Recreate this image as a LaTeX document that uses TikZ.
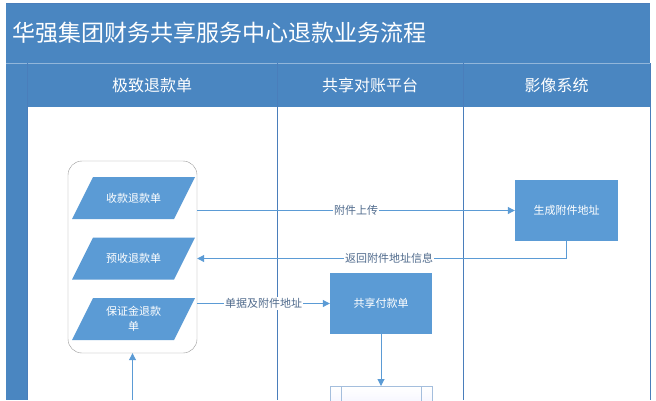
\documentclass[tikz,border=0pt]{standalone}
\usepackage{fontspec}
\setmainfont{Noto Sans CJK SC}
\usetikzlibrary{arrows.meta,positioning}
\definecolor{bandblue}{HTML}{4A86C1}
\definecolor{boxblue}{HTML}{5B9BD5}
\definecolor{laneline}{HTML}{4A7EBB}
\definecolor{labelgray}{HTML}{4F6A8C}

\begin{document}
\begin{tikzpicture}[x=1pt, y=-1pt, >={Triangle[length=7pt,width=7pt]},
    flow/.style={draw=boxblue, line width=1pt},
    procbox/.style={rectangle, fill=boxblue, text=white, font=\fontsize{11}{13}\selectfont,
        minimum width=103pt, minimum height=61pt, inner sep=0pt},
    doctext/.style={text=white, font=\fontsize{11}{15}\selectfont, align=center,
        minimum width=102pt, minimum height=42pt, inner sep=0pt},
    flowlabel/.style={fill=white, text=labelgray, font=\fontsize{11}{13}\selectfont, inner sep=1pt},
    lanehead/.style={text=white, font=\fontsize{16}{18}\selectfont}]
    \useasboundingbox (0,0) rectangle (656,400);
    \clip (0,0) rectangle (656,400);

    % Titel und Kopfzeile
    \fill[bandblue] (6,3) rectangle (650,107);
    \fill[bandblue] (6,107) rectangle (27,400);
    \draw[white!40!bandblue, line width=0.5pt] (6,63) -- (650,63);
    \node[anchor=west, text=white, font=\fontsize{23}{26}\selectfont] (title) at (9,33) {华强集团财务共享服务中心退款业务流程};
    \node[lanehead] (h1) at (152,85) {极致退款单};
    \node[lanehead] (h2) at (370,85) {共享对账平台};
    \node[lanehead] (h3) at (556.5,85) {影像系统};

    % Bahnen
    \foreach \x in {27,277,463,650}
        \draw[laneline, line width=0.7pt] (\x,63) -- (\x,400);
    \draw[laneline, line width=0.7pt] (6,3) -- (650,3);

    % Container mit Belegen
    \node[draw=gray!80, rounded corners=14pt, fill=white, minimum width=129pt,
        minimum height=192pt] (cont) at (132.5,257) {};
    \foreach \y in {198,258.5,319}
        \fill[boxblue] (72,\y+21) -- (93,\y-21) -- (195,\y-21) -- (174,\y+21) -- cycle;
    \node[doctext] (sk) at (133.5,198) {收款退款单};
    \node[doctext] (ys) at (133.5,258.5) {预收退款单};
    \node[doctext] (bz) at (133.5,319) {保证金退款\\单};

    % Prozesse
    \node[procbox] (gen) at (566.5,210.5) {生成附件地址};
    \node[procbox, minimum width=102pt] (pay) at (381,303.5) {共享付款单};
    \node[draw=laneline!50, top color=white, bottom color=blue!8, minimum width=102pt,
        minimum height=40pt, anchor=north] (chk) at (381,386) {};
    \draw[laneline!50] ([xshift=11pt]chk.north west) -- ([xshift=11pt]chk.south west);
    \draw[laneline!50] ([xshift=-11pt]chk.north east) -- ([xshift=-11pt]chk.south east);
    \coordinate (src) at (132.5,400);

    % Verbindungen
    \draw[flow,->] (cont.east |- gen.west) -- node[flowlabel] {附件上传} (gen.west);
    \draw[flow,->] (gen.south) |- node[flowlabel, pos=0.74] {返回附件地址信息} (cont.east |- ys.east);
    \draw[flow,->] (cont.east |- pay.west) -- node[flowlabel] {单据及附件地址} (pay.west);
    \draw[flow,->] (pay.south) -- (chk.north);
    \draw[flow,->] (src) -- (cont.south);

\end{tikzpicture}
\end{document}
